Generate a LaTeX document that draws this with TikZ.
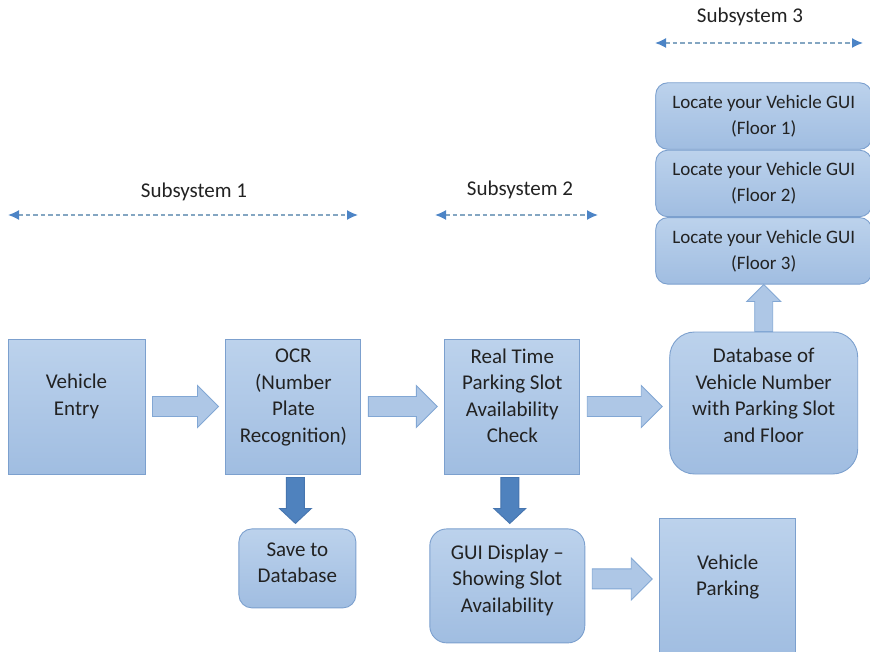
\documentclass[tikz,border=0pt]{standalone}
\usepackage{fontspec}
\setmainfont{Carlito}
\usepackage{xcolor}
\usepackage{tikz}
\usetikzlibrary{shapes,arrows.meta,positioning,calc}

\definecolor{boxtop}{RGB}{188,210,236}
\definecolor{boxbot}{RGB}{160,189,225}
\definecolor{boxline}{RGB}{124,160,206}
\definecolor{flowfill}{RGB}{174,199,230}
\definecolor{flowline}{RGB}{130,167,212}
\definecolor{dropfill}{RGB}{79,130,190}
\definecolor{dropline}{RGB}{70,117,175}
\definecolor{spanline}{RGB}{132,166,194}
\definecolor{tipblue}{RGB}{76,132,198}
\definecolor{ink}{RGB}{34,34,34}

% block arrows drawn between two box anchors
\newcommand{\fatright}[3][flow]{%
  \path[#1] let \p1=(#2), \p2=(#3) in
    (\x1+7pt,\y1+10pt) -- (\x2-28pt,\y1+10pt) -- (\x2-28pt,\y1+21pt)
    -- (\x2-7pt,\y1) -- (\x2-28pt,\y1-21pt) -- (\x2-28pt,\y1-10pt)
    -- (\x1+7pt,\y1-10pt) -- cycle;}
\newcommand{\fatdown}[3][drop]{%
  \path[#1] let \p1=(#2), \p2=(#3), \p3=($(#2)!0.5!(#3)$) in
    (\x3-9pt,\y1-3pt) -- (\x3-9pt,\y2+20pt) -- (\x3-16pt,\y2+20pt)
    -- (\x3,\y2+5pt) -- (\x3+16pt,\y2+20pt) -- (\x3+9pt,\y2+20pt)
    -- (\x3+9pt,\y1-3pt) -- cycle;}
\newcommand{\fatup}[3][flow]{%
  \path[#1] let \p1=(#2), \p2=(#3) in
    (\x1-9pt,\y1) -- (\x1-9pt,\y2-17pt) -- (\x1-17pt,\y2-17pt)
    -- (\x1,\y2) -- (\x1+17pt,\y2-17pt) -- (\x1+9pt,\y2-17pt)
    -- (\x1+9pt,\y1) -- cycle;}

\begin{document}
\begin{tikzpicture}[
    x=1pt, y=-1pt,
    node distance=54pt,
    block/.style={rectangle, draw=boxline, line width=0.9pt, top color=boxtop, bottom color=boxbot, text=ink, align=center, inner sep=2pt, font=\fontsize{21}{26.5}\selectfont},
    floor/.style={block, rounded corners=12pt, minimum width=216pt, minimum height=66.5pt, font=\fontsize{19}{26}\selectfont},
    caption/.style={text=ink, font=\fontsize{21}{24}\selectfont},
    flow/.style={fill=flowfill, draw=flowline, line width=0.9pt},
    drop/.style={fill=dropfill, draw=dropline, line width=0.9pt},
    span/.style={<->, >={Latex[length=11pt, width=10pt, color=tipblue]}, draw=spanline, line width=1.6pt, dash pattern=on 4.5pt off 3pt}
]
    \useasboundingbox (0,0) rectangle (870,652);

    % Main row
    \node[block, minimum width=137pt, minimum height=135pt, text depth=24pt] (entry) at (76.5,406.5) {Vehicle\\Entry};
    \node[block, minimum width=135pt, minimum height=135pt, text depth=22pt, right=80pt of entry] (ocr) {OCR\\(Number\\Plate\\Recognition)};
    \node[block, minimum width=135pt, minimum height=135pt, text depth=22pt, right=83pt of ocr] (rt) {Real Time\\Parking Slot\\Availability\\Check};
    \node[block, rounded corners=25pt, minimum width=188pt, minimum height=142pt, text depth=16pt, right=89pt of rt, yshift=3.5pt] (db) {Database of\\Vehicle Number\\with Parking Slot\\and Floor};

    % Floor GUIs
    \node[floor, above=47pt of db] (floor3) {Locate your Vehicle GUI\\(Floor 3)};
    \node[floor, above=0pt of floor3] (floor2) {Locate your Vehicle GUI\\(Floor 2)};
    \node[floor, above=0pt of floor2] (floor1) {Locate your Vehicle GUI\\(Floor 1)};

    % Lower row
    \node[block, rounded corners=13pt, minimum width=117pt, minimum height=79pt, text depth=11pt, below=of ocr, xshift=4pt] (save) {Save to\\Database};
    \node[block, rounded corners=17pt, minimum width=155pt, minimum height=114pt, text depth=15pt, below=of rt, xshift=-5pt] (gui) {GUI Display --\\Showing Slot\\Availability};
    \node[block, minimum width=136pt, minimum height=138pt, text depth=25pt, right=74pt of gui, yshift=-2pt] (park) {Vehicle\\Parking};

    \fatright{entry.east}{ocr.west}
    \fatright{ocr.east}{rt.west}
    \fatright{rt.east}{db.west}
    \fatright{[yshift=7pt]gui.east}{park.west}
    \fatdown{ocr.south}{save.north}
    \fatdown{rt.south}{gui.north}
    \fatup{db.north}{floor3.south}

    % Subsystem spans
    \node[caption] (sub1) at (194,192) {Subsystem 1};
    \coordinate (s1a) at (8,215);
    \coordinate (s1b) at (358,215);
    \draw[span] (s1a) -- (s1b);

    \node[caption] (sub2) at (520,190) {Subsystem 2};
    \coordinate (s2a) at (435,215);
    \coordinate (s2b) at (598,215);
    \draw[span] (s2a) -- (s2b);

    \node[caption] (sub3) at (750,17) {Subsystem 3};
    \coordinate (s3a) at (655,43);
    \coordinate (s3b) at (863,43);
    \draw[span] (s3a) -- (s3b);
\end{tikzpicture}
\end{document}
